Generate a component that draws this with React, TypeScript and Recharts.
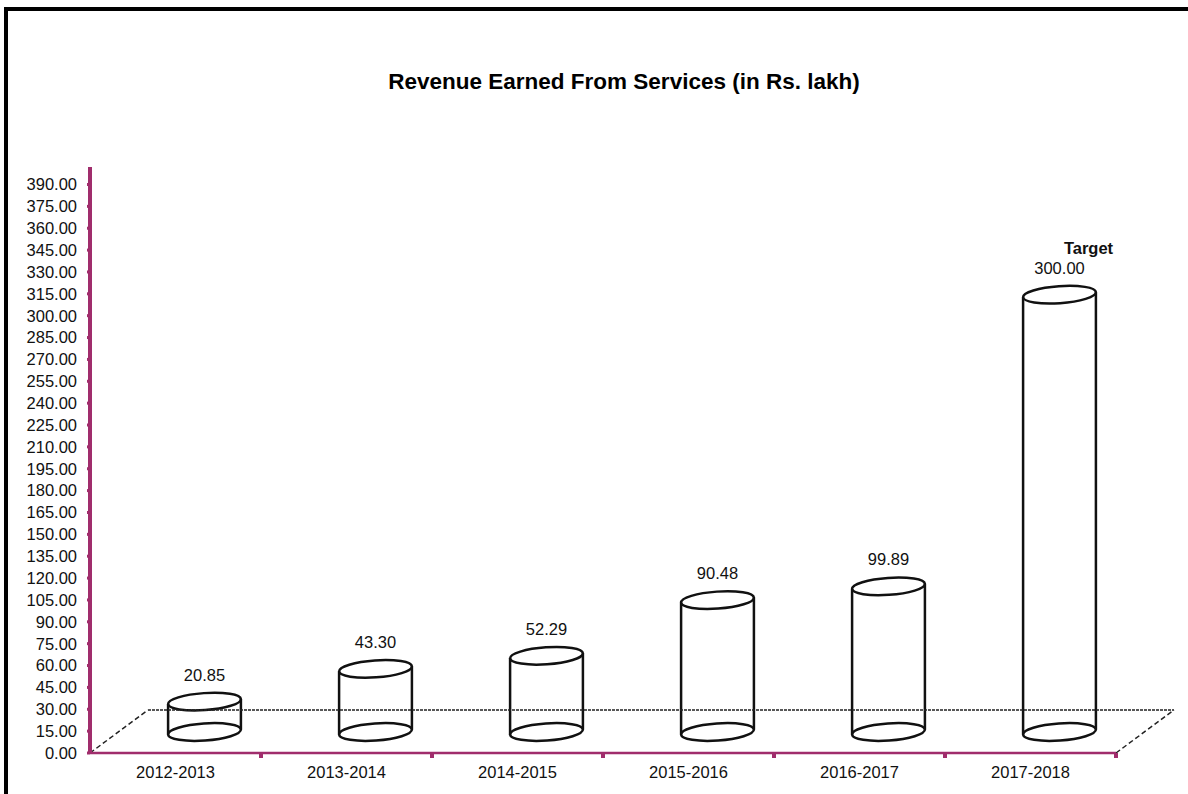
import React from 'react';
import { BarChart, Bar, XAxis, YAxis, ReferenceLine, LabelList } from 'recharts';

const years = ['2012-2013', '2013-2014', '2014-2015', '2015-2016', '2016-2017', '2017-2018'];
const revenue = [20.85, 43.3, 52.29, 90.48, 99.89, 300.0];
const notes = ['', '', '', '', '', 'Target'];
const yTicks = [0, 15, 30, 45, 60, 75, 90, 105, 120, 135, 150, 165, 180, 195, 210, 225, 240, 255, 270, 285, 300, 315, 330, 345, 360, 375, 390];

const data = years.map((year, i) => ({ year, revenue: revenue[i], note: notes[i] }));

const FONT = '"Liberation Sans", Arial, Helvetica, sans-serif';
const MAGENTA = '#a02d6c';
const DX = 29;
const DY = -21;
const TILT = -4;

function Cylinder(props: any) {
  const { x, y, width, height } = props;
  if (x == null || y == null) return null;
  const cx = x + width / 2 + DX;
  const rx = width / 2;
  const ry = 8.5;
  const top = y + DY;
  const bottom = y + height + DY;
  const rad = (TILT * Math.PI) / 180;
  const ex = rx * Math.cos(rad);
  const ey = rx * Math.sin(rad);
  return (
    <g fill="none" stroke="#111" strokeWidth={2.5}>
      <line x1={cx - ex} y1={top - ey} x2={cx - ex} y2={bottom - ey} />
      <line x1={cx + ex} y1={top + ey} x2={cx + ex} y2={bottom + ey} />
      <ellipse cx={cx} cy={top} rx={rx} ry={ry} transform={`rotate(${TILT} ${cx} ${top})`} />
      <ellipse cx={cx} cy={bottom} rx={rx} ry={ry} transform={`rotate(${TILT} ${cx} ${bottom})`} />
    </g>
  );
}

function Floor(props: any) {
  const { x1, y1, x2 } = props;
  if (x1 == null || y1 == null || x2 == null) return null;
  const fx = 2 * DX;
  const fy = 2 * DY - 1;
  const n = years.length;
  const step = (x2 - x1) / n;
  const marks = [];
  for (let i = 1; i <= n; i++) {
    marks.push(<rect key={i} x={x1 + i * step - 2} y={y1} width={4} height={5} fill={MAGENTA} />);
  }
  return (
    <g>
      <line x1={x1 + fx} y1={y1 + fy} x2={x2 + fx} y2={y1 + fy} stroke="#222" strokeWidth={1.6} strokeDasharray="3 1" />
      <line x1={x1} y1={y1} x2={x1 + fx} y2={y1 + fy} stroke="#222" strokeWidth={1.5} strokeDasharray="5 3" />
      <line x1={x2} y1={y1} x2={x2 + fx} y2={y1 + fy} stroke="#222" strokeWidth={1.5} strokeDasharray="5 3" />
      {marks}
    </g>
  );
}

function getBox(props: any) {
  const vb = props.viewBox && props.viewBox.width != null ? props.viewBox : props;
  return { x: vb.x, y: vb.y, width: vb.width };
}

function ValueLabel(props: any) {
  const { x, y, width } = getBox(props);
  const v = Number(props.value);
  if (x == null || isNaN(v)) return null;
  const cx = x + width / 2 + DX;
  return (
    <text x={cx} y={y + DY - 27} textAnchor="middle" dominantBaseline="central" fontSize={16.5} fontFamily={FONT} fill="#111">
      {v.toFixed(2)}
    </text>
  );
}

function NoteLabel(props: any) {
  const { x, y, width } = getBox(props);
  if (!props.value || x == null) return null;
  const cx = x + width / 2 + DX;
  return (
    <text x={cx + 29} y={y + DY - 47} textAnchor="middle" dominantBaseline="central" fontSize={16.5} fontWeight="bold" fontFamily={FONT} fill="#111">
      {props.value}
    </text>
  );
}

export default function App() {
  return (
    <div style={{ position: 'absolute', left: 0, top: 0, width: 1188, height: 794, overflow: 'hidden', background: '#fff', fontFamily: FONT }}>
      <div style={{ position: 'absolute', left: 4, top: 7, width: 1300, height: 900, borderTop: '4px solid #000', borderLeft: '4px solid #000' }} />
      <div style={{ position: 'absolute', left: 224, top: 70, width: 800, textAlign: 'center', fontSize: 22.5, lineHeight: '24px', fontWeight: 'bold', color: '#000' }}>
        Revenue Earned From Services (in Rs. lakh)
      </div>
      <div style={{ position: 'absolute', left: 0, top: 0 }}>
        <BarChart width={1188} height={794} data={data} margin={{ top: 167, right: 72, left: 0, bottom: 0 }} barSize={73}>
          <XAxis
            dataKey="year"
            height={41}
            axisLine={{ stroke: MAGENTA, strokeWidth: 2.5 }}
            tickLine={false}
            tickSize={6}
            tickMargin={7}
            tick={{ fontSize: 16.5, fontFamily: FONT, fill: '#111' }}
            interval={0}
          />
          <YAxis
            width={90}
            domain={[0, 402]}
            ticks={yTicks}
            interval={0}
            tickFormatter={(v: number) => v.toFixed(2)}
            axisLine={{ stroke: MAGENTA, strokeWidth: 4 }}
            tickLine={{ stroke: MAGENTA, strokeWidth: 3 }}
            tickSize={3}
            tickMargin={10}
            tick={{ fontSize: 16.5, fontFamily: FONT, fill: '#111' }}
          />
          <ReferenceLine y={0} shape={(p: any) => <Floor {...p} />} ifOverflow="visible" />
          <Bar dataKey="revenue" fill="none" shape={(p: any) => <Cylinder {...p} />} isAnimationActive={false}>
            <LabelList dataKey="revenue" content={(p: any) => <ValueLabel {...p} />} />
            <LabelList dataKey="note" content={(p: any) => <NoteLabel {...p} />} />
          </Bar>
        </BarChart>
      </div>
    </div>
  );
}
